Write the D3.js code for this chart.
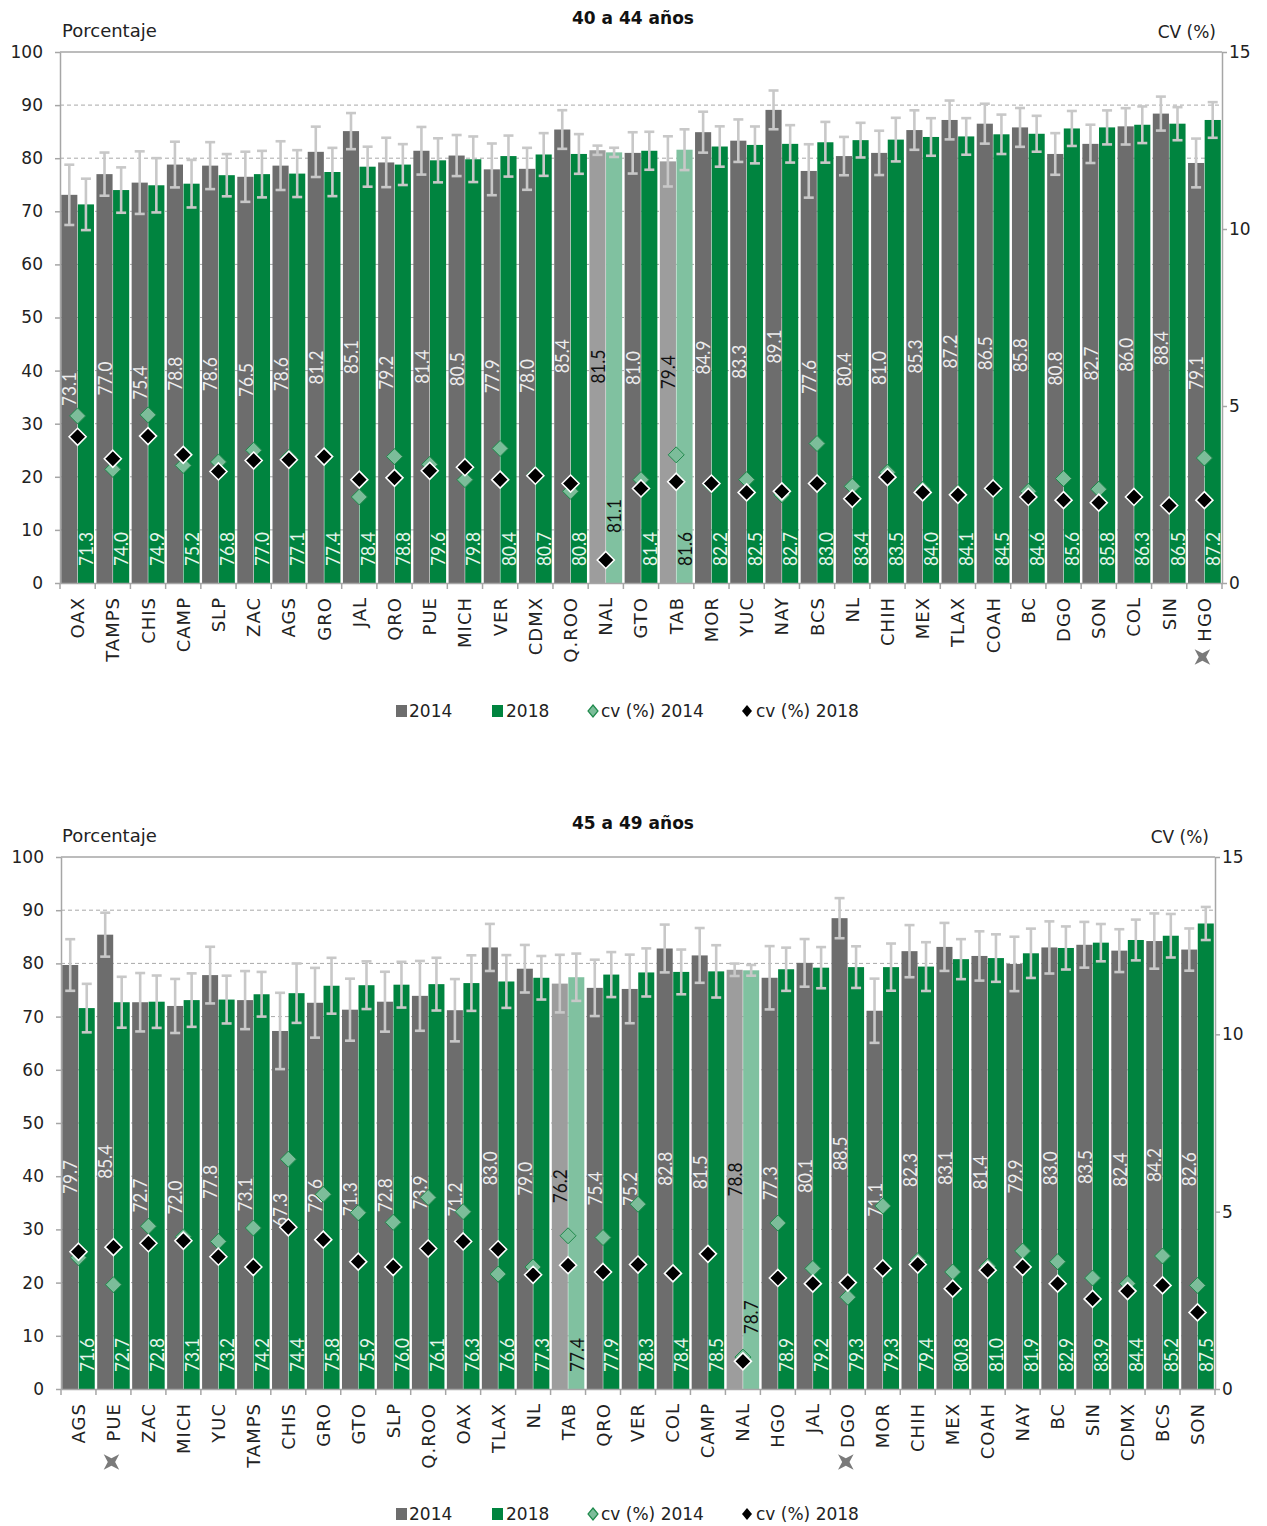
<!DOCTYPE html>
<html>
<head>
<meta charset="utf-8">
<script src="https://cdn.jsdelivr.net/npm/d3@7"></script>
<style>
  body { margin: 0; background: #fff; }
</style>
</head>
<body>
<svg id="chart" width="1267" height="1526"></svg>
<script>
// ---- data: 40 a 44 años ----
var cats1 = ["OAX","TAMPS","CHIS","CAMP","SLP","ZAC","AGS","GRO","JAL","QRO","PUE","MICH","VER","CDMX","Q.ROO","NAL","GTO","TAB","MOR","YUC","NAY","BCS","NL","CHIH","MEX","TLAX","COAH","BC","DGO","SON","COL","SIN","HGO"];
var val2014_1 = [73.1,77.0,75.4,78.8,78.6,76.5,78.6,81.2,85.1,79.2,81.4,80.5,77.9,78.0,85.4,81.5,81.0,79.4,84.9,83.3,89.1,77.6,80.4,81.0,85.3,87.2,86.5,85.8,80.8,82.7,86.0,88.4,79.1];
var val2018_1 = [71.3,74.0,74.9,75.2,76.8,77.0,77.1,77.4,78.4,78.8,79.6,79.8,80.4,80.7,80.8,81.1,81.4,81.6,82.2,82.5,82.7,83.0,83.4,83.5,84.0,84.1,84.5,84.6,85.6,85.8,86.3,86.5,87.2];
var cv2014_1 = [4.72,3.21,4.75,3.32,3.42,3.75,3.55,3.55,2.43,3.57,3.35,2.92,3.80,3.08,2.59,0.65,2.92,3.62,2.76,2.92,2.49,3.94,2.73,3.13,2.65,2.55,2.64,2.59,2.95,2.65,2.42,2.20,3.53];
var cv2018_1 = [4.13,3.51,4.15,3.62,3.15,3.46,3.48,3.57,2.92,2.97,3.17,3.27,2.92,3.03,2.81,0.65,2.67,2.86,2.81,2.56,2.59,2.81,2.38,2.99,2.56,2.49,2.67,2.43,2.34,2.27,2.43,2.19,2.34];
var light1 = ["NAL","TAB"];
var stars1 = ["HGO"];

// ---- data: 45 a 49 años ----
var cats2 = ["AGS","PUE","ZAC","MICH","YUC","TAMPS","CHIS","GRO","GTO","SLP","Q.ROO","OAX","TLAX","NL","TAB","QRO","VER","COL","CAMP","NAL","HGO","JAL","DGO","MOR","CHIH","MEX","COAH","NAY","BC","SIN","CDMX","BCS","SON"];
var val2014_2 = [79.7,85.4,72.7,72.0,77.8,73.1,67.3,72.6,71.3,72.8,73.9,71.2,83.0,79.0,76.2,75.4,75.2,82.8,81.5,78.8,77.3,80.1,88.5,71.1,82.3,83.1,81.4,79.9,83.0,83.5,82.4,84.2,82.6];
var val2018_2 = [71.6,72.7,72.8,73.1,73.2,74.2,74.4,75.8,75.9,76.0,76.1,76.3,76.6,77.3,77.4,77.9,78.3,78.4,78.5,78.7,78.9,79.2,79.3,79.3,79.4,80.8,81.0,81.9,82.9,83.9,84.4,85.2,87.5];
var cv2014_2 = [3.70,2.94,4.59,4.29,4.16,4.54,6.48,5.49,4.97,4.70,5.40,5.00,3.24,3.44,4.32,4.27,5.21,3.30,3.84,0.90,4.68,3.40,2.59,5.16,3.62,3.30,3.46,3.89,3.59,3.13,2.97,3.75,2.92];
var cv2018_2 = [3.87,4.00,4.11,4.18,3.73,3.44,4.56,4.21,3.59,3.44,3.96,4.16,3.94,3.22,3.49,3.30,3.51,3.26,3.81,0.78,3.13,2.97,3.00,3.40,3.51,2.83,3.35,3.44,2.97,2.54,2.76,2.92,2.16];
var light2 = ["TAB","NAL"];
var stars2 = ["PUE","DGO"];

var yTicks = [0,10,20,30,40,50,60,70,80,90,100];
var cvTicks = [0,5,10,15];

var svg = d3.select('#chart');
var fontMain = "'DejaVu Sans', sans-serif";
var fontNum = "Lato, 'DejaVu Sans', sans-serif";

var c = {
  gray: '#6d6d6d', green: '#00843f',
  grayLight: '#9d9d9d', greenLight: '#80c1a0',
  err: '#c8c8c8', axis: '#a6a6a6',
  cvGreen: '#7cbd9a', cvGreenEdge: '#1f8a4c'
};

function diamond(w, h) {
  return 'M0,' + (-h) + 'L' + w + ',0L0,' + h + 'L' + (-w) + ',0Z';
}

// four pointed star, drawn as an X
function starX(r, w) {
  var pts = [[0,-r],[w,-w],[r,0],[w,w],[0,r],[-w,w],[-r,0],[-w,-w]];
  return 'M' + pts.map(function(p) {
    var a = Math.PI / 4;
    return [(p[0]*Math.cos(a) - p[1]*Math.sin(a)).toFixed(2), (p[0]*Math.sin(a) + p[1]*Math.cos(a)).toFixed(2)].join(',');
  }).join('L') + 'Z';
}

// 90% confidence half-width from the CV
function ci(v, cv) { return v * cv / 100 * 1.645; }

function drawPanel(p) {
  var g = svg.append('g');
  var n = p.cats.length;

  var x = d3.scaleBand().domain(p.cats).range([p.left, p.right]).paddingInner(0.07).paddingOuter(0.035);
  var xIn = d3.scaleBand().domain(['2014','2018']).range([0, x.bandwidth()]).paddingInner(0.03);
  var y = d3.scaleLinear().domain([0, 100]).range([p.bottom, p.top]);
  var yCv = d3.scaleLinear().domain([0, 15]).range([p.bottom, p.top]);

  var rows = p.cats.map(function(cat, i) {
    return { cat: cat, v14: p.v14[i], v18: p.v18[i], cv14: p.cv14[i], cv18: p.cv18[i], light: p.light.indexOf(cat) >= 0 };
  });

  // dashed gridlines
  g.append('g').selectAll('line')
    .data(yTicks.filter(function(d) { return d > 0 && d < 100; }))
    .enter().append('line')
    .attr('x1', p.left).attr('x2', p.right)
    .attr('y1', function(d) { return y(d); }).attr('y2', function(d) { return y(d); })
    .attr('stroke', '#a8a8a8').attr('stroke-width', 1).attr('stroke-dasharray', '4,3');

  // top border
  g.append('line').attr('x1', p.left).attr('x2', p.right).attr('y1', y(100)).attr('y2', y(100))
    .attr('stroke', c.axis).attr('stroke-width', 1.5);

  // bars
  var grp = g.append('g').selectAll('g').data(rows).enter().append('g')
    .attr('transform', function(d) { return 'translate(' + x(d.cat) + ',0)'; });

  grp.append('rect')
    .attr('x', xIn('2014')).attr('width', xIn.bandwidth())
    .attr('y', function(d) { return y(d.v14); })
    .attr('height', function(d) { return y(0) - y(d.v14); })
    .attr('fill', function(d) { return d.light ? c.grayLight : c.gray; });

  grp.append('rect')
    .attr('x', xIn('2018')).attr('width', xIn.bandwidth())
    .attr('y', function(d) { return y(d.v18); })
    .attr('height', function(d) { return y(0) - y(d.v18); })
    .attr('fill', function(d) { return d.light ? c.greenLight : c.green; });

  // error bars
  function errBar(sel, key, vKey, cvKey) {
    var cx = xIn(key) + xIn.bandwidth() / 2;
    var e = sel.append('g').attr('stroke', c.err).attr('stroke-width', 2.6).attr('fill', 'none');
    e.append('line').attr('x1', cx).attr('x2', cx)
      .attr('y1', function(d) { return y(d[vKey] + ci(d[vKey], d[cvKey])); })
      .attr('y2', function(d) { return y(d[vKey] - ci(d[vKey], d[cvKey])); });
    e.append('line').attr('x1', cx - 5).attr('x2', cx + 5)
      .attr('y1', function(d) { return y(d[vKey] + ci(d[vKey], d[cvKey])); })
      .attr('y2', function(d) { return y(d[vKey] + ci(d[vKey], d[cvKey])); });
    e.append('line').attr('x1', cx - 5).attr('x2', cx + 5)
      .attr('y1', function(d) { return y(d[vKey] - ci(d[vKey], d[cvKey])); })
      .attr('y2', function(d) { return y(d[vKey] - ci(d[vKey], d[cvKey])); });
  }
  errBar(grp, '2014', 'v14', 'cv14');
  errBar(grp, '2018', 'v18', 'cv18');

  // value labels (narrow)
  grp.append('text')
    .attr('transform', function(d) {
      return 'translate(' + (xIn('2014') + xIn.bandwidth() / 2) + ',' + y(d.v14 / 2) + ') rotate(-90) scale(0.86,1)';
    })
    .attr('dy', '0.36em')
    .style('text-anchor', 'middle')
    .style('font-family', fontNum).style('font-size', '20px')
    .style('fill', function(d) { return d.light ? '#111' : '#ececec'; })
    .text(function(d) { return d.v14.toFixed(1); });

  grp.append('text')
    .attr('transform', function(d) {
      var base = y(0) - 17;
      var m = yCv(d.cv18);
      if (m > base - 40) base = m - 27;  // move above a low marker
      return 'translate(' + (xIn('2018') + xIn.bandwidth() / 2) + ',' + base + ') rotate(-90) scale(0.86,1)';
    })
    .attr('dy', '0.36em')
    .style('text-anchor', 'start')
    .style('font-family', fontNum).style('font-size', '20px')
    .style('fill', function(d) { return d.light ? '#111' : '#e6f4eb'; })
    .text(function(d) { return d.v18.toFixed(1); });

  // cv markers
  var mid = x.bandwidth() / 2;
  grp.append('path')
    .attr('d', diamond(8, 8))
    .attr('transform', function(d) { return 'translate(' + mid + ',' + yCv(d.cv14) + ')'; })
    .attr('fill', c.cvGreen).attr('stroke', c.cvGreenEdge).attr('stroke-width', 1);
  grp.append('path')
    .attr('d', diamond(8.5, 8.5))
    .attr('transform', function(d) { return 'translate(' + mid + ',' + yCv(d.cv18) + ')'; })
    .attr('fill', '#000').attr('stroke', '#fff').attr('stroke-width', 1.6);

  // left axis
  var axL = g.append('g').attr('transform', 'translate(' + p.left + ',0)')
    .call(d3.axisLeft(y).tickValues(yTicks).tickSize(5).tickSizeOuter(0).tickPadding(12));
  // right axis
  var axR = g.append('g').attr('transform', 'translate(' + p.right + ',0)')
    .call(d3.axisRight(yCv).tickValues(cvTicks).tickSize(5).tickSizeOuter(0).tickPadding(2));
  [axL, axR].forEach(function(a) {
    a.select('.domain').attr('stroke', c.axis).attr('stroke-width', 1.5);
    a.selectAll('.tick line').attr('stroke', c.axis).attr('stroke-width', 1.5);
    a.selectAll('.tick text').style('font-family', fontMain).style('font-size', '17px').style('fill', '#222');
  });

  // bottom axis with category labels
  var axB = g.append('g').attr('transform', 'translate(0,' + p.bottom + ')')
    .call(d3.axisBottom(x).tickSize(0).tickSizeOuter(0));
  axB.select('.domain').attr('stroke', c.axis).attr('stroke-width', 1.5);
  axB.selectAll('.tick text')
    .attr('transform', 'rotate(-90)')
    .attr('x', -14).attr('y', 0).attr('dy', '0.36em')
    .style('text-anchor', 'end')
    .style('font-family', fontMain).style('font-size', '18px')
    .style('letter-spacing', '1px').style('fill', '#222');

  var step = x.step();
  g.append('g').selectAll('line').data(d3.range(n + 1)).enter().append('line')
    .attr('x1', function(i) { return p.left + i * step; })
    .attr('x2', function(i) { return p.left + i * step; })
    .attr('y1', p.bottom).attr('y2', p.bottom + 6)
    .attr('stroke', c.axis).attr('stroke-width', 1.5);

  // star marks under some categories
  g.append('g').selectAll('path').data(p.stars).enter().append('path')
    .attr('d', starX(11, 2.6))
    .attr('transform', function(d) { return 'translate(' + (x(d) + mid - 2) + ',' + (p.bottom + p.starDy) + ')'; })
    .attr('fill', '#7a7a7a');

  // titles
  g.append('text').attr('x', 633).attr('y', p.top - 28)
    .style('text-anchor', 'middle').style('font-family', fontMain)
    .style('font-size', '17px').style('font-weight', 'bold').style('fill', '#111')
    .text(p.title);
  g.append('text').attr('x', 62).attr('y', p.top - 15)
    .style('font-family', fontMain).style('font-size', '18px').style('fill', '#222')
    .text('Porcentaje');
  g.append('text').attr('x', p.right - 6).attr('y', p.top - 14)
    .style('text-anchor', 'end').style('font-family', fontMain).style('font-size', '17px').style('fill', '#222')
    .text('CV (%)');

  // legend
  var ly = p.legendY;
  var lg = g.append('g').style('font-family', fontMain).style('font-size', '17px').style('fill', '#222');
  lg.append('rect').attr('x', 396).attr('y', ly - 6).attr('width', 11).attr('height', 12).attr('fill', c.gray);
  lg.append('text').attr('x', 409).attr('y', ly).attr('dy', '0.36em').text('2014');
  lg.append('rect').attr('x', 492).attr('y', ly - 6).attr('width', 11).attr('height', 12).attr('fill', c.green);
  lg.append('text').attr('x', 506).attr('y', ly).attr('dy', '0.36em').text('2018');
  lg.append('path').attr('d', diamond(5, 6)).attr('transform', 'translate(593,' + ly + ')')
    .attr('fill', c.cvGreen).attr('stroke', c.cvGreenEdge).attr('stroke-width', 1.2);
  lg.append('text').attr('x', 601).attr('y', ly).attr('dy', '0.36em').text('cv (%) 2014');
  lg.append('path').attr('d', diamond(5, 6)).attr('transform', 'translate(747,' + ly + ')')
    .attr('fill', '#000');
  lg.append('text').attr('x', 756).attr('y', ly).attr('dy', '0.36em').text('cv (%) 2018');
}

drawPanel({
  title: '40 a 44 años', cats: cats1, v14: val2014_1, v18: val2018_1, cv14: cv2014_1, cv18: cv2018_1,
  light: light1, stars: stars1, left: 60, right: 1222, top: 52, bottom: 583, legendY: 711, starDy: 74
});
drawPanel({
  title: '45 a 49 años', cats: cats2, v14: val2014_2, v18: val2018_2, cv14: cv2014_2, cv18: cv2018_2,
  light: light2, stars: stars2, left: 61, right: 1215, top: 857, bottom: 1389, legendY: 1514, starDy: 73
});
</script>
</body>
</html>
